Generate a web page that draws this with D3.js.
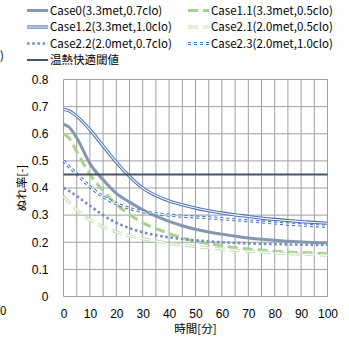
<!DOCTYPE html>
<html>
<head>
<meta charset="utf-8">
<script src="https://cdn.jsdelivr.net/npm/d3@7"></script>
<style>
  body { margin: 0; background: #fff; }
  svg { font-family: "Noto Sans CJK JP", "Noto Sans", sans-serif; }
</style>
</head>
<body>
<div id="chart"></div>
<script>
// data (time in minutes, wetness [-])
const times = [0, 2, 5, 10, 15, 20, 25, 30, 35, 40, 45, 50, 55, 60, 65, 70, 75, 80, 85, 90, 95, 100];
const case0  = [0.635, 0.625, 0.585, 0.49, 0.43, 0.38, 0.348, 0.32, 0.296, 0.277, 0.261, 0.248, 0.238, 0.23, 0.222, 0.216, 0.211, 0.207, 0.204, 0.201, 0.199, 0.198];
const case11 = [0.60, 0.585, 0.535, 0.45, 0.39, 0.34, 0.302, 0.272, 0.25, 0.232, 0.216, 0.204, 0.195, 0.187, 0.18, 0.175, 0.171, 0.167, 0.164, 0.162, 0.16, 0.158];
const case12 = [0.69, 0.685, 0.665, 0.615, 0.555, 0.495, 0.443, 0.40, 0.372, 0.352, 0.338, 0.326, 0.316, 0.308, 0.301, 0.295, 0.289, 0.284, 0.28, 0.276, 0.273, 0.27];
const case21 = [0.37, 0.35, 0.32, 0.283, 0.257, 0.238, 0.224, 0.213, 0.204, 0.196, 0.19, 0.184, 0.179, 0.175, 0.171, 0.167, 0.164, 0.161, 0.158, 0.156, 0.154, 0.152];
const case22 = [0.40, 0.39, 0.37, 0.335, 0.30, 0.272, 0.252, 0.237, 0.226, 0.218, 0.212, 0.207, 0.203, 0.2, 0.198, 0.196, 0.194, 0.193, 0.192, 0.191, 0.19, 0.19];
const case23 = [0.50, 0.48, 0.452, 0.405, 0.368, 0.342, 0.325, 0.313, 0.305, 0.30, 0.296, 0.293, 0.29, 0.287, 0.283, 0.279, 0.275, 0.271, 0.267, 0.264, 0.261, 0.259];
const threshold = 0.45;

const seriesNames = ["Case0(3.3met,0.7clo)", "Case1.1(3.3met,0.5clo)", "Case1.2(3.3met,1.0clo)",
                     "Case2.1(2.0met,0.5clo)", "Case2.2(2.0met,0.7clo)", "Case2.3(2.0met,1.0clo)", "温熱快適閾値"];
const xTicks = [0, 10, 20, 30, 40, 50, 60, 70, 80, 90, 100];
const yTicks = [0, 0.1, 0.2, 0.3, 0.4, 0.5, 0.6, 0.7, 0.8];

// line styles: outer stroke, optional white inner stroke for the double lines
const styles = [
  { color: "#8497b0", w: 3, dash: null },
  { color: "#a9d18e", w: 3, dash: "10,5" },
  { color: "#4a6fb8", w: 3.2, dash: null, inner: 1.1 },
  { color: "#c5e0b4", w: 3.2, dash: "10,5", inner: 1.1 },
  { color: "#7590c4", w: 2.6, dash: "2.6,2.6" },
  { color: "#4472c4", w: 3.2, dash: "3,3", inner: 1.1 },
  { color: "#44546a", w: 2, dash: null }
];

const W = 349, H = 340;
const margin = { top: 79.5, left: 63.5, right: 21.5, bottom: 43.5 };
const width = W - margin.left - margin.right,
      height = H - margin.top - margin.bottom;

const svg = d3.select("#chart").append("svg")
  .attr("width", W)
  .attr("height", H);

const g = svg.append("g")
  .attr("transform", "translate(" + margin.left + "," + margin.top + ")");

const x = d3.scaleLinear().domain([0, 100]).range([0, width]);
const y = d3.scaleLinear().domain([0, 0.8]).range([height, 0]);

// gridlines
g.append("g").selectAll("line")
  .data(d3.range(0, 101, 5))
  .join("line")
  .attr("x1", d => x(d)).attr("x2", d => x(d))
  .attr("y1", 0).attr("y2", height)
  .attr("stroke", "#a0a0a0").attr("stroke-width", 1);

g.append("g").selectAll("line")
  .data(yTicks)
  .join("line")
  .attr("x1", 0).attr("x2", width)
  .attr("y1", d => y(d)).attr("y2", d => y(d))
  .attr("stroke", "#a0a0a0").attr("stroke-width", 1);

// axes (labels only)
const xAxis = d3.axisBottom(x).tickValues(xTicks).tickSize(0).tickPadding(13);
const yAxis = d3.axisLeft(y).tickValues(yTicks).tickSize(0).tickPadding(15)
  .tickFormat(d => d === 0 ? "0" : d3.format(".1f")(d));

g.append("g")
  .attr("transform", "translate(0," + height + ")")
  .call(xAxis)
  .call(a => a.select(".domain").remove())
  .selectAll("text").attr("font-size", 12).attr("fill", "#000").attr("font-family", null);

g.append("g")
  .call(yAxis)
  .call(a => a.select(".domain").remove())
  .selectAll("text").attr("font-size", 12).attr("fill", "#000").attr("font-family", null);

// axis titles
g.append("text")
  .attr("x", width / 2)
  .attr("y", height + 36)
  .attr("text-anchor", "middle")
  .attr("font-size", 11.5)
  .text("時間[分]");

svg.append("text")
  .attr("transform", "translate(26," + (margin.top + height / 2) + ") rotate(-90)")
  .attr("text-anchor", "middle")
  .attr("font-size", 11.5)
  .text("ぬれ率[-]");

// series
const seriesData = [case0, case11, case12, case21, case22, case23];
const line = d3.line()
  .x(d => x(d[0]))
  .y(d => y(d[1]))
  .curve(d3.curveMonotoneX);

function drawPath(sel, pts, st) {
  sel.append("path")
    .attr("d", line(pts))
    .attr("fill", "none")
    .attr("stroke", st.color)
    .attr("stroke-width", st.w)
    .attr("stroke-dasharray", st.dash);
  if (st.inner) {
    sel.append("path")
      .attr("d", line(pts))
      .attr("fill", "none")
      .attr("stroke", "#fff")
      .attr("stroke-width", st.inner)
      .attr("stroke-dasharray", st.dash);
  }
}

const lines = g.append("g");
seriesData.forEach((vals, i) => {
  const pts = times.map((t, j) => [t, vals[j]]);
  drawPath(lines, pts, styles[i]);
});
drawPath(lines, [[0, threshold], [100, threshold]], styles[6]);

// legend
const legendPos = [
  [27, 10.5], [188, 10.5],
  [27, 27], [188, 27],
  [27, 43.5], [188, 43.5],
  [27, 60]
];
const legend = svg.append("g");
seriesNames.forEach((name, i) => {
  const [lx, ly] = legendPos[i];
  const st = styles[i];
  const item = legend.append("g");
  item.append("line")
    .attr("x1", lx).attr("x2", lx + 21)
    .attr("y1", ly).attr("y2", ly)
    .attr("stroke", st.color)
    .attr("stroke-width", st.w)
    .attr("stroke-dasharray", st.dash);
  if (st.inner) {
    item.append("line")
      .attr("x1", lx).attr("x2", lx + 21)
      .attr("y1", ly).attr("y2", ly)
      .attr("stroke", "#fff")
      .attr("stroke-width", st.inner)
      .attr("stroke-dasharray", st.dash);
  }
  item.append("text")
    .attr("x", lx + 23)
    .attr("y", ly)
    .attr("dy", "0.35em")
    .attr("font-size", 11.5)
    .text(name);
});

// fragments of the neighbouring chart at the left edge
svg.append("text").attr("x", 0).attr("y", 56).attr("dy", "0.35em")
  .attr("font-size", 11.5).text(")");
svg.append("text").attr("x", 0).attr("y", 311).attr("dy", "0.35em")
  .attr("font-size", 11.5).text("0");
</script>
</body>
</html>
